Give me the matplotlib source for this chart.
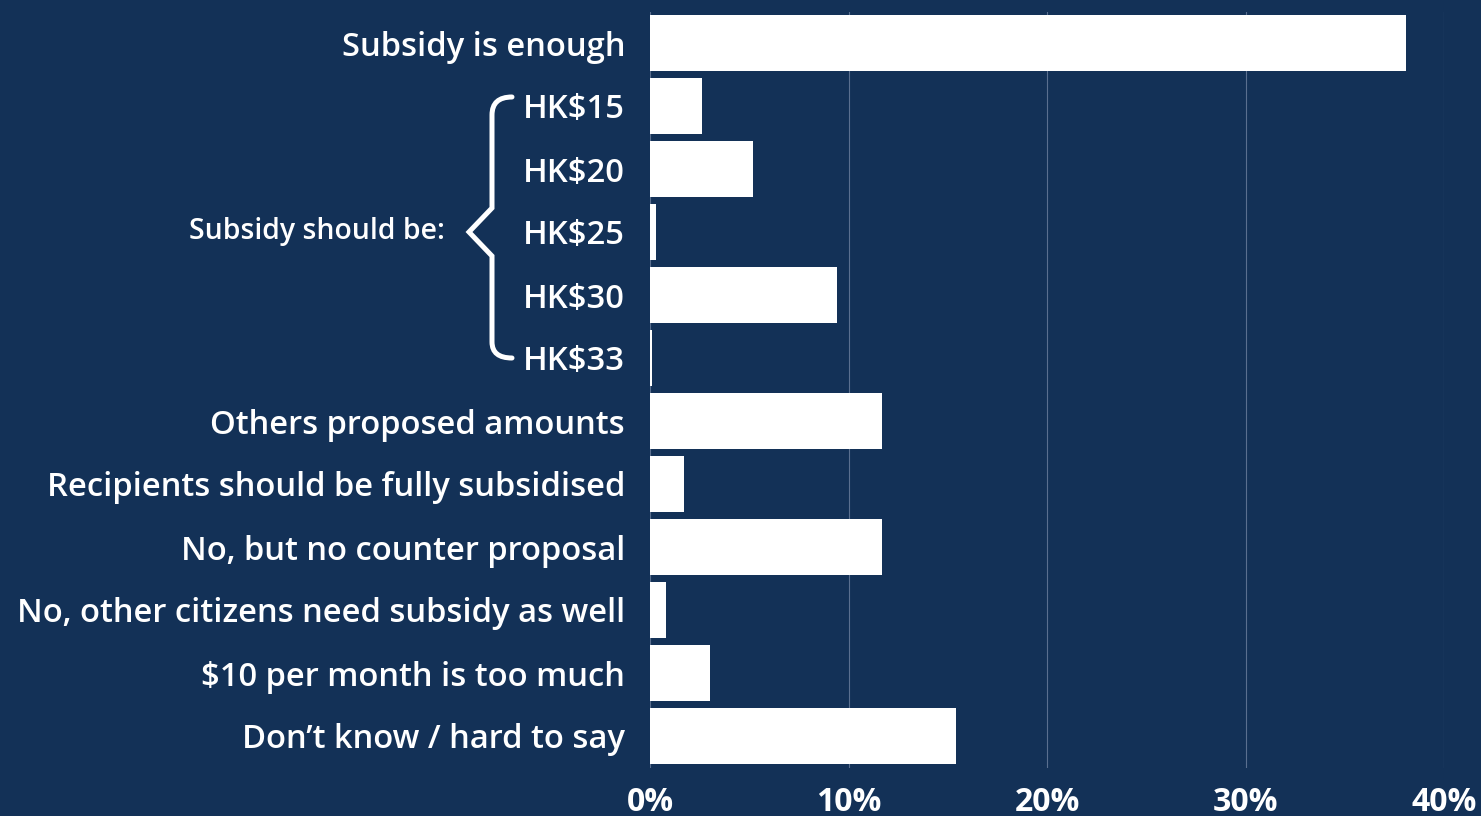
import matplotlib
matplotlib.use("Agg")
import matplotlib.pyplot as plt
from matplotlib.path import Path
from matplotlib.patches import PathPatch
import matplotlib.transforms as mtransforms

categories = ["Subsidy is enough", "HK$15", "HK$20", "HK$25", "HK$30", "HK$33",
              "Others proposed amounts", "Recipients should be fully subsidised",
              "No, but no counter proposal", "No, other citizens need subsidy as well",
              "$10 per month is too much", "Don\u2019t know / hard to say"]
values = [38.1, 2.6, 5.2, 0.3, 9.4, 0.1, 11.7, 1.7, 11.7, 0.8, 3.0, 15.4]
xticks = [0, 10, 20, 30, 40]
xtick_labels = ["0%", "10%", "20%", "30%", "40%"]
group_label = "Subsidy should be:"

BG = "#133157"
W, H = 1481, 816
fig = plt.figure(figsize=(W / 100, H / 100), dpi=100, facecolor=BG)
ax = fig.add_axes([650 / W, (H - 767.5) / H, (1444 - 650) / W, (767.5 - 11.5) / H])
ax.set_facecolor(BG)

ypos = list(range(len(categories)))
ax.barh(ypos, values, height=0.9, color="white", zorder=3)
ax.set_ylim(len(categories) - 0.5, -0.5)
ax.set_xlim(0, 40)

ax.set_xticks(xticks)
ax.set_xticklabels(xtick_labels)
ax.set_yticks(ypos)
ax.set_yticklabels(categories)
ax.tick_params(axis="y", length=0, pad=18, colors="white")
ax.tick_params(axis="x", length=0, pad=13, colors="white")
for lab in ax.get_yticklabels():
    lab.set_fontfamily("Open Sans")
    lab.set_fontweight("semibold")
    lab.set_fontsize(23.6)
for lab in ax.get_xticklabels():
    lab.set_fontfamily("Open Sans")
    lab.set_fontweight("bold")
    lab.set_fontsize(23)

ax.grid(axis="x", color="#5a6f8f", linewidth=0.8, zorder=0)
ax.set_axisbelow(True)
for s in ax.spines.values():
    s.set_visible(False)

# brace: x in figure fraction, y in data units
trans = mtransforms.blended_transform_factory(fig.transFigure, ax.transData)
def fx(px):
    return px / W
r = 63.0  # px per row
top = 1 - 9 / r
bot = 5.0
mid = 3.0
verts = [
    (fx(512), top),
    (fx(492), top), (fx(492), top + 18 / r),
    (fx(492), mid - 24 / r),
    (fx(469), mid),
    (fx(492), mid + 24 / r),
    (fx(492), bot - 16 / r),
    (fx(492), bot), (fx(512), bot),
]
codes = [Path.MOVETO, Path.CURVE3, Path.CURVE3, Path.LINETO, Path.LINETO,
         Path.LINETO, Path.LINETO, Path.CURVE3, Path.CURVE3]
brace = PathPatch(Path(verts, codes), transform=trans, facecolor="none",
                  edgecolor="white", linewidth=3.6, capstyle="round",
                  joinstyle="miter", clip_on=False)
fig.add_artist(brace)

fig.text(445 / W, mid, group_label, transform=trans, ha="right", va="center",
         color="white", fontsize=20.4, fontfamily="Open Sans", fontweight="semibold")

fig.savefig("out.png", dpi=100, facecolor=BG)
